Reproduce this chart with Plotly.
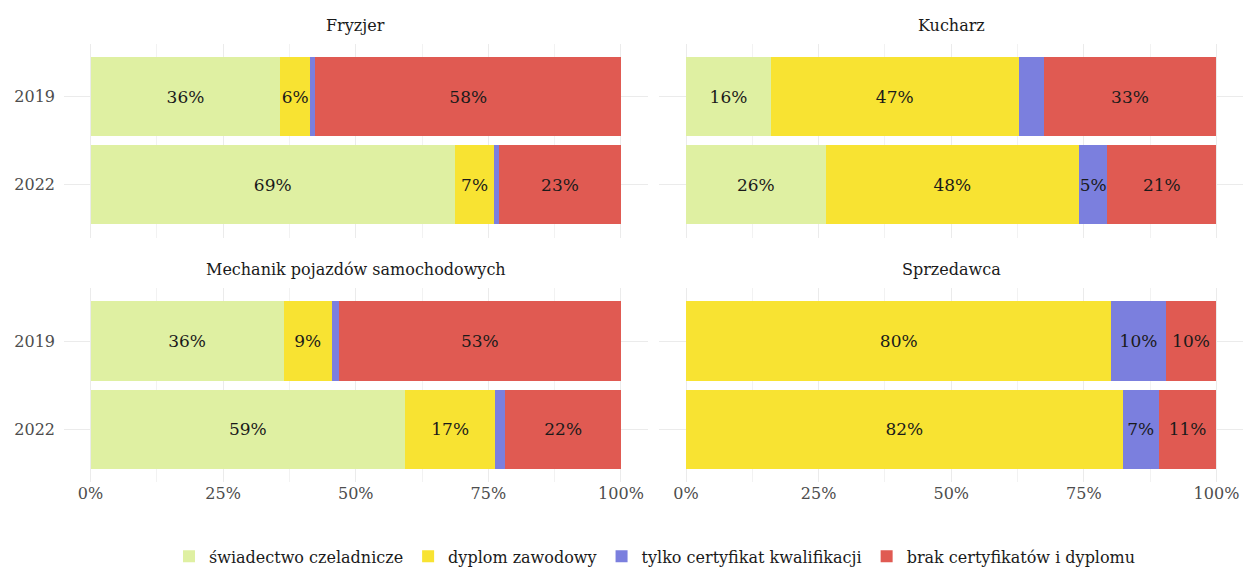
import plotly.graph_objects as go

occupations = ["Fryzjer", "Kucharz", "Mechanik pojazdów samochodowych", "Sprzedawca"]
years = ["2019", "2022"]
categories = ["świadectwo czeladnicze", "dyplom zawodowy",
              "tylko certyfikat kwalifikacji", "brak certyfikatów i dyplomu"]
colors = ["#dff0a2", "#f8e332", "#7b7fde", "#e05a52"]

# values in order: occupation x year (2019, 2022)
swiadectwo = [35.8, 68.7, 16.0, 26.3, 36.4, 59.3, 0.0, 0.0]
dyplom = [5.6, 7.4, 46.7, 47.8, 9.1, 17.0, 80.2, 82.3]
certyfikat = [1.0, 0.9, 4.7, 5.3, 1.3, 1.9, 10.2, 6.8]
brak = [57.6, 23.0, 32.6, 20.6, 53.2, 21.8, 9.6, 10.9]
series = [swiadectwo, dyplom, certyfikat, brak]
x_ticks = [0, 25, 50, 75, 100]
x_ticktext = [f"{t}%" for t in x_ticks]

FONT = "DejaVu Serif, Liberation Serif, serif"

fig = go.Figure()
axes_ids = ["", "2", "3", "4"]
for oi, occ in enumerate(occupations):
    ax = axes_ids[oi]
    for ci, cat in enumerate(categories):
        vals = series[ci][oi * 2: oi * 2 + 2]
        texts = [("%.0f%%" % v) if v >= 5 else "" for v in vals]
        fig.add_trace(go.Bar(
            x=vals, y=years, orientation="h", name=cat,
            marker=dict(color=colors[ci], line=dict(width=0)),
            text=texts, textposition="inside", insidetextanchor="middle",
            textangle=0, constraintext="none",
            textfont=dict(family=FONT, size=17, color="#1a1a1a"),
            xaxis="x" + ax, yaxis="y" + ax,
            showlegend=(oi == 0), legendgroup=cat,
            hovertemplate="%{y}: %{x:.1f}%<extra>" + cat + "</extra>",
        ))

W, H = 1244, 569
ml, mr, mt, mb = 63.5, 0.5, 44, 86.5
pw, ph = W - ml - mr, H - mt - mb
left_dom = [0, 584 / pw]
right_dom = [(659.5 - ml) / pw, 1]
top_dom = [(482.5 - 237.8) / ph, 1]
bot_dom = [0, (482.5 - 288.5) / ph]

grid = "#ebebeb"

def xax(dom, anchor, show):
    return dict(domain=dom, anchor=anchor, range=[-5, 105],
                tickmode="array", tickvals=x_ticks, ticktext=x_ticktext,
                showticklabels=show, showgrid=True, gridcolor=grid, gridwidth=1.1,
                minor=dict(tickvals=[12.5, 37.5, 62.5, 87.5], showgrid=True,
                           gridcolor="#f2f2f2", gridwidth=0.6),
                zeroline=False, showline=False, ticks="",
                tickfont=dict(family=FONT, size=16, color="#4d4d4d"),
                automargin=False, fixedrange=True)

def yax(dom, anchor, show):
    return dict(domain=dom, anchor=anchor, type="category",
                categoryorder="array", categoryarray=years,
                range=[1.6, -0.6], showticklabels=show,
                showgrid=True, gridcolor=grid, gridwidth=1.1,
                zeroline=False, showline=False, ticks="", ticklabelstandoff=8,
                tickfont=dict(family=FONT, size=16, color="#4d4d4d"),
                automargin=False, fixedrange=True)

fig.update_layout(
    width=W, height=H,
    margin=dict(l=ml, r=mr, t=mt, b=mb, autoexpand=False),
    paper_bgcolor="white", plot_bgcolor="white",
    barmode="stack", bargap=0.1,
    xaxis=xax(left_dom, "y", False), yaxis=yax(top_dom, "x", True),
    xaxis2=xax(right_dom, "y2", False), yaxis2=yax(top_dom, "x2", False),
    xaxis3=xax(left_dom, "y3", True), yaxis3=yax(bot_dom, "x3", True),
    xaxis4=xax(right_dom, "y4", True), yaxis4=yax(bot_dom, "x4", False),
    legend=dict(orientation="h", x=(655 - ml) / pw, xanchor="center",
                y=(482.5 - 557) / ph, yanchor="middle",
                font=dict(family=FONT, size=16, color="#1a1a1a"),
                traceorder="normal", itemclick=False, itemdoubleclick=False),
    showlegend=True,
)

title_y = [(482.5 - 25) / ph, (482.5 - 270) / ph]
centers = [(left_dom[0] + left_dom[1]) / 2, (right_dom[0] + right_dom[1]) / 2]
for oi, occ in enumerate(occupations):
    fig.add_annotation(text=occ, xref="paper", yref="paper",
                       x=centers[oi % 2], y=title_y[oi // 2],
                       xanchor="center", yanchor="middle", showarrow=False,
                       font=dict(family=FONT, size=16, color="#1a1a1a"))

fig.write_html("out.html", config={"displayModeBar": False},
               post_script="document.body.style.margin='0px';")
